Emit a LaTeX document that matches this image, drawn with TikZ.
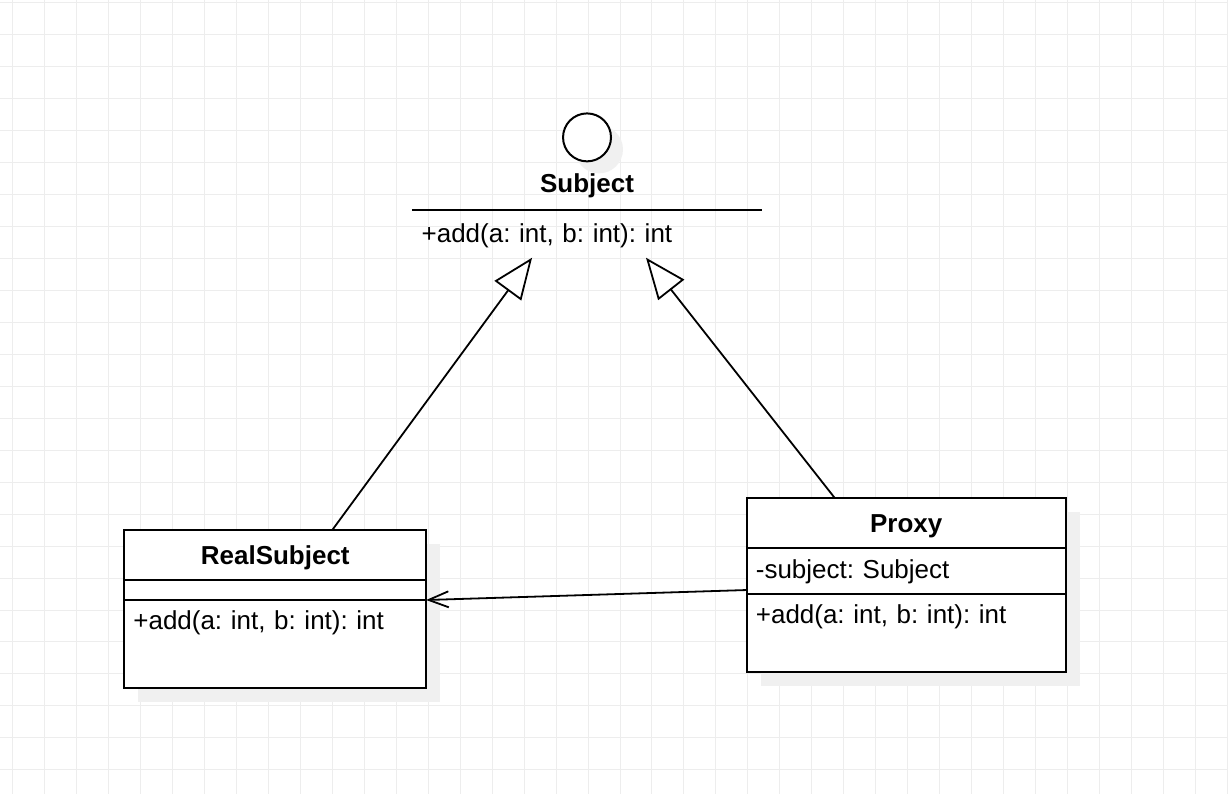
\documentclass[tikz,border=0pt]{standalone}
\usepackage{fontspec}
\setmainfont{Liberation Sans}
\usetikzlibrary{positioning,arrows.meta,shadows}
\frenchspacing

\begin{document}
\begin{tikzpicture}[x=1pt,y=-1pt,
        every node/.style={font=\fontsize{26}{31}\selectfont},
        gridline/.style={draw=black!7,line width=1pt},
        shadebox/.style={drop shadow={shadow xshift=#1,shadow yshift=-#1,fill=black!6,opacity=1}},
        umlpart/.style={draw,fill=white,line width=2pt,outer sep=0pt,shadebox=14pt},
        umltitle/.style={umlpart,font=\fontsize{26}{31}\selectfont\bfseries,inner ysep=0pt,text height=34pt,text depth=16pt},
        umltext/.style={umlpart,align=left,inner xsep=9pt,inner ysep=0pt,text height=30pt},
        realize/.style={line width=1.8pt,-{Triangle[length=41pt,width=33pt,fill=white]}},
        usesarrow/.style={line width=1.8pt,-{Straight Barb[length=20pt,width=16pt]}}]
        % grid
        \fill[white] (0,0) rectangle (1228,794);
        \foreach \x in {12,44,...,1228} \draw[gridline] (\x,0) -- (\x,794);
        \foreach \y in {2,34,...,794} \draw[gridline] (0,\y) -- (1228,\y);
        \useasboundingbox (0,0) rectangle (1228,794);
        % Subject
        \node[circle,draw,fill=white,line width=2pt,minimum size=48pt,inner sep=0pt,shadebox=12pt] (sicon) at (587,137) {};
        \node[font=\fontsize{26}{31}\selectfont\bfseries] (sname) at (587,185) {Subject};
        \node[align=left,text width=331pt,inner xsep=9.5pt,inner ysep=0pt,text height=32pt,text depth=15pt,anchor=north] (sops) at (587,210) {+add(a: int, b: int): int};
        \draw[line width=2pt] (sops.north west) -- (sops.north east);
        % RealSubject
        \node[umltitle,minimum width=302pt,anchor=north west] (rtitle) at (124,530) {RealSubject};
        \node[umlpart,minimum width=302pt,minimum height=20pt,below=0pt of rtitle] (rattr) {};
        \node[umltext,text width=284pt,text depth=58pt,below=0pt of rattr] (rops) {+add(a: int, b: int): int};
        % Proxy
        \node[umltitle,minimum width=319pt,anchor=north west] (ptitle) at (747,498) {Proxy};
        \node[umltext,text width=301pt,text depth=16pt,below=0pt of ptitle] (pattr) {-subject: Subject};
        \node[umltext,text width=301pt,text depth=48pt,below=0pt of pattr] (pops) {+add(a: int, b: int): int};
        % connectors
        \draw[realize] ([xshift=57pt]rtitle.north) -- ([xshift=-55pt]sops.south);
        \draw[realize] ([xshift=-71.5pt]ptitle.north) -- ([xshift=59pt]sops.south);
        \draw[usesarrow] ([yshift=-19pt]pattr.west) -- (rops.north east);
\end{tikzpicture}
\end{document}
